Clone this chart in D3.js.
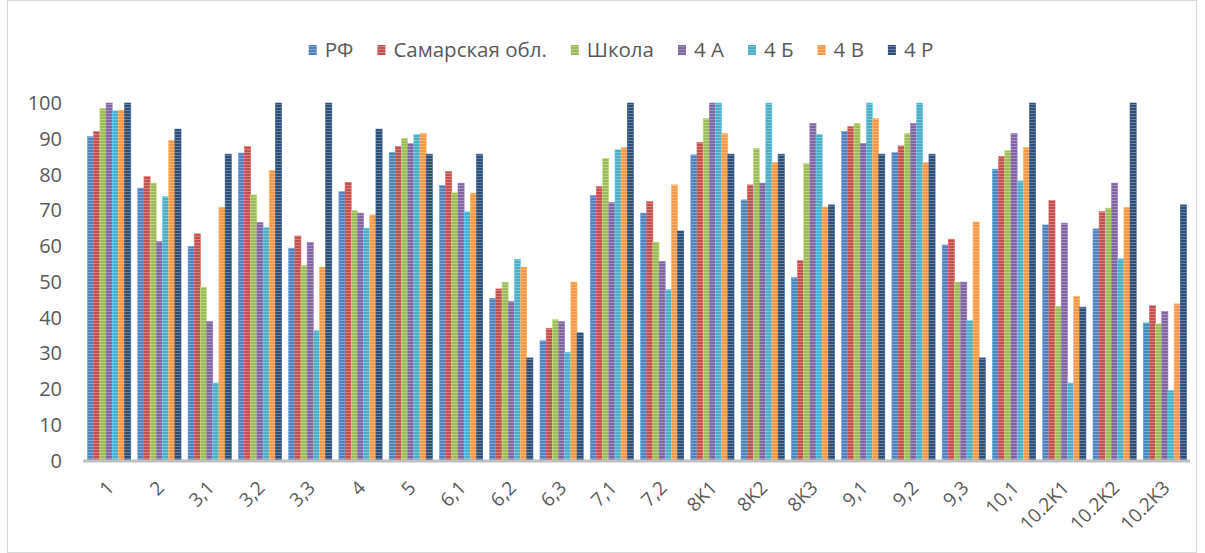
<!DOCTYPE html>
<html lang="ru">

<head>
    <meta charset="UTF-8">
    <script src="https://cdnjs.cloudflare.com/ajax/libs/d3/7.8.5/d3.min.js"></script>
    <title>Результаты</title>
    <style>
        body { margin: 0; background: #fff; }
        text { font-family: "Open Sans", sans-serif; fill: #595959; }
    </style>
</head>

<body>
    <svg width="1205" height="553"></svg>
    <script>
        const categories = ["1", "2", "3,1", "3,2", "3,3", "4", "5", "6,1", "6,2", "6,3", "7,1", "7,2",
            "8K1", "8K2", "8K3", "9,1", "9,2", "9,3", "10,1", "10.2K1", "10.2K2", "10.2K3"]
        const seriesNames = ["РФ", "Самарская обл.", "Школа", "4 А", "4 Б", "4 В", "4 Р"]
        const colors = ["#4F81BD", "#C0504D", "#9BBB59", "#8064A2", "#4BACC6", "#F79646", "#2C4D75"]

        const rf = [90.6, 76.2, 59.9, 86, 59.4, 75.2, 86.2, 76.9, 45.4, 33.5, 74.1, 69.2, 85.5, 72.9, 51.2, 92, 86.1, 60.3, 81.5, 65.9, 64.8, 38.5]
        const samara = [92, 79.4, 63.4, 87.8, 62.8, 77.8, 87.8, 80.8, 48, 37, 76.6, 72.4, 89, 77.1, 55.9, 93.4, 88, 61.9, 85, 72.7, 69.6, 43.3]
        const school = [98.5, 77.6, 48.5, 74.3, 54.6, 69.9, 90.1, 74.9, 49.9, 39.4, 84.5, 61.1, 95.7, 87.3, 83.1, 94.3, 91.5, 49.9, 86.7, 43.1, 70.6, 38.2]
        const class4a = [100, 61.3, 38.9, 66.6, 61, 69.2, 88.6, 77.6, 44.5, 38.9, 72.2, 55.7, 100, 77.6, 94.3, 88.7, 94.3, 49.9, 91.5, 66.4, 77.6, 41.7]
        const class4b = [97.8, 73.8, 21.7, 65.2, 36.3, 65, 91.2, 69.6, 56.3, 30.3, 86.9, 47.8, 100, 100, 91.2, 100, 100, 39.1, 78.2, 21.7, 56.4, 19.6]
        const class4v = [98, 89.5, 70.8, 81.1, 54.1, 68.7, 91.5, 74.8, 54.1, 49.9, 87.5, 77.1, 91.5, 83.3, 70.9, 95.7, 83.3, 66.7, 87.5, 45.9, 70.8, 43.8]
        const class4r = [100, 92.7, 85.7, 100, 100, 92.7, 85.7, 85.7, 28.7, 35.7, 100, 64.2, 85.7, 85.7, 71.5, 85.7, 85.7, 28.7, 100, 42.9, 100, 71.5]
        const yTicks = [0, 10, 20, 30, 40, 50, 60, 70, 80, 90, 100]

        const values = [rf, samara, school, class4a, class4b, class4v, class4r]

        const svg = d3.select("svg")

        // chart frame
        svg.append("rect")
            .attr("x", 7.5).attr("y", 0.5)
            .attr("width", 1189).attr("height", 552)
            .attr("fill", "none")
            .attr("stroke", "#d9d9d9")

        // striped fills like the excel bars
        const defs = svg.append("defs")
        colors.forEach((c, i) => {
            const p = defs.append("pattern")
                .attr("id", `stripe${i}`)
                .attr("patternUnits", "userSpaceOnUse")
                .attr("width", 6).attr("height", 3)
            p.append("rect").attr("width", 6).attr("height", 3).attr("fill", c)
            p.append("rect").attr("y", 2).attr("width", 6).attr("height", 1)
                .attr("fill", "#fff").attr("opacity", 0.3)
        })

        const x0 = d3.scaleBand()
            .domain(categories)
            .range([84, 1190])
            .paddingInner(0.14)
            .paddingOuter(0.07)

        const x1 = d3.scaleBand()
            .domain(d3.range(seriesNames.length))
            .range([0, x0.bandwidth()])

        const y = d3.scaleLinear()
            .domain([0, 100])
            .range([460.5, 103])

        const rows = categories.map((c, ci) => ({ cat: c, vals: values.map(s => s[ci]) }))

        svg.append("g")
            .selectAll("g")
            .data(rows)
            .enter()
            .append("g")
            .attr("transform", d => `translate(${x0(d.cat)},0)`)
            .selectAll("rect")
            .data(d => d.vals)
            .enter()
            .append("rect")
            .attr("x", (d, i) => x1(i))
            .attr("y", d => y(d))
            .attr("width", x1.bandwidth())
            .attr("height", d => y(0) - y(d))
            .attr("fill", (d, i) => `url(#stripe${i})`)
            .attr("stroke", (d, i) => d3.color(colors[i]).brighter(0.6))
            .attr("stroke-width", 0.6)

        // x axis line
        svg.append("line")
            .attr("x1", 83).attr("x2", 1190)
            .attr("y1", y(0) + 0.5).attr("y2", y(0) + 0.5)
            .attr("stroke", "#bfbfbf")
            .attr("stroke-width", 3)

        // y tick labels
        svg.append("g")
            .selectAll("text")
            .data(yTicks)
            .enter()
            .append("text")
            .attr("x", 62)
            .attr("y", d => y(d))
            .attr("dy", "0.35em")
            .attr("text-anchor", "end")
            .style("font-size", "20px")
            .text(d => d)

        // rotated category labels
        svg.append("g")
            .selectAll("text")
            .data(categories)
            .enter()
            .append("text")
            .attr("transform", d => `translate(${x0(d) + x0.bandwidth() / 2 - 4},479) rotate(-45)`)
            .attr("dy", "0.75em")
            .attr("text-anchor", "end")
            .style("font-size", "19px")
            .text(d => d)

        // legend
        const legend = svg.append("g")
        let lx = 0
        seriesNames.forEach((name, i) => {
            const item = legend.append("g").attr("transform", `translate(${lx},0)`)
            item.append("rect")
                .attr("x", 0).attr("y", -5)
                .attr("width", 8).attr("height", 10)
                .attr("fill", `url(#stripe${i})`)
            const t = item.append("text")
                .attr("x", 16)
                .attr("dy", "0.35em")
                .style("font-size", "20.5px")
                .text(name)
            lx += 16 + t.node().getComputedTextLength() + 24
        })
        const legendWidth = lx - 24
        legend.attr("transform", `translate(${621 - legendWidth / 2},50)`)
    </script>
</body>

</html>
